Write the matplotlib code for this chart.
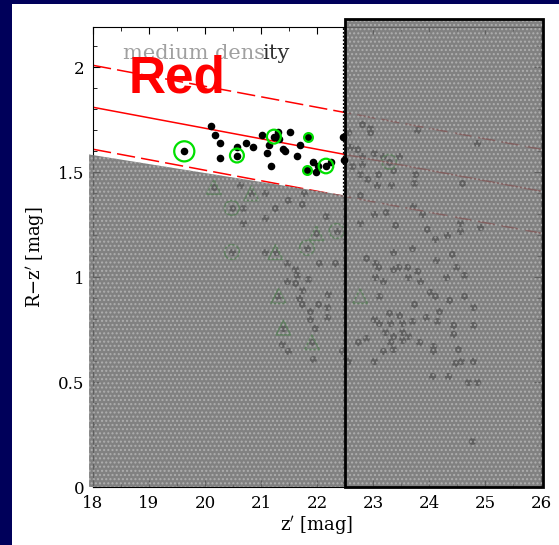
import numpy as np
import matplotlib
matplotlib.use("Agg")
import matplotlib.pyplot as plt
from matplotlib.patches import Polygon, Rectangle

plt.rcParams['font.family'] = ['DejaVu Serif']
plt.rcParams['hatch.linewidth'] = 1.0

# visible red-sequence galaxies (white window)
red_z = [19.63, 20.10, 20.17, 20.26, 20.27, 20.58, 20.57, 20.73, 20.86, 21.01,
         21.14, 21.11, 21.18, 21.23, 21.30, 21.33, 21.39, 21.42, 21.51, 21.65,
         21.70, 21.84, 21.93, 22.02, 21.98, 21.82, 22.16, 22.25, 22.47, 22.48]
red_rz = [1.60, 1.72, 1.68, 1.64, 1.57, 1.62, 1.58, 1.64, 1.62, 1.68,
          1.63, 1.59, 1.53, 1.67, 1.69, 1.66, 1.61, 1.60, 1.69, 1.58,
          1.63, 1.67, 1.55, 1.53, 1.50, 1.51, 1.53, 1.55, 1.67, 1.56]

# big green rings (spectroscopic members)
ring_z = [19.63, 20.57, 21.23, 22.16]
ring_rz = [1.60, 1.58, 1.67, 1.53]
ring_size = [210, 100, 100, 110]

# small green-edged dots
small_z = [21.84, 21.82]
small_rz = [1.67, 1.51]

# galaxies under the masked (grey) regions
bg_z = [20.16, 20.63, 20.83, 21.08, 21.25, 21.49, 21.76, 21.73, 20.48, 20.67,
        20.68, 21.08, 22.16, 22.35, 21.99, 20.48, 21.07, 21.26, 21.46, 21.82,
        22.04, 22.32, 21.61, 21.64, 21.46, 21.84, 21.61, 21.73, 22.20, 21.31,
        21.67, 21.73, 22.02, 22.17, 21.88, 22.18, 21.88, 21.96, 21.40, 21.91,
        21.37, 21.49, 21.93, 22.44,
        22.76, 23.01, 23.23, 22.77, 23.39, 23.72, 23.87, 23.96, 24.55, 24.55,
        24.91, 24.11, 24.32, 23.35, 23.69, 22.88, 23.04, 23.09, 23.04, 23.36,
        23.45, 23.60, 23.79, 23.63, 23.18, 23.84, 24.13, 24.41, 24.48, 24.30,
        24.63, 24.02, 24.11, 23.11, 24.36, 23.74, 24.63, 24.79, 23.29, 24.17,
        23.95, 23.01, 23.11, 23.30, 23.47, 23.51, 23.69, 24.14, 24.43, 24.43,
        24.79, 23.21, 23.36, 23.51, 23.63, 23.30, 23.51, 22.74, 22.88, 23.36,
        23.17, 23.83, 24.08, 24.08, 24.52, 23.01, 22.56, 24.46, 24.58, 24.79,
        24.05, 24.34, 24.70, 24.85,
        22.80, 22.95, 22.95, 23.79, 24.85, 22.56, 22.59, 22.71, 22.80, 23.01,
        23.18, 23.46, 23.29, 23.36, 22.81, 22.62, 22.76, 23.09, 22.90, 23.75,
        23.73, 23.33, 23.07, 24.59, 24.77]
bg_rz = [1.43, 1.44, 1.40, 1.40, 1.33, 1.37, 1.40, 1.35, 1.33, 1.33,
         1.26, 1.28, 1.29, 1.22, 1.21, 1.12, 1.12, 1.12, 1.07, 1.14,
         1.07, 1.07, 1.04, 1.01, 0.98, 0.99, 0.97, 0.94, 0.92, 0.91,
         0.90, 0.87, 0.87, 0.86, 0.84, 0.81, 0.80, 0.76, 0.76, 0.69,
         0.68, 0.65, 0.61, 0.65,
         1.39, 1.30, 1.31, 1.26, 1.25, 1.34, 1.30, 1.23, 1.26, 1.22,
         1.24, 1.18, 1.20, 1.12, 1.14, 1.09, 1.07, 1.05, 1.00, 1.04,
         1.05, 1.05, 1.03, 1.00, 0.98, 0.98, 1.08, 1.11, 1.05, 1.00,
         1.01, 0.93, 0.91, 0.91, 0.89, 0.87, 0.91, 0.86, 0.83, 0.84,
         0.81, 0.80, 0.78, 0.78, 0.82, 0.78, 0.79, 0.79, 0.77, 0.73,
         0.77, 0.74, 0.72, 0.74, 0.72, 0.69, 0.70, 0.69, 0.71, 0.66,
         0.65, 0.69, 0.67, 0.65, 0.66, 0.60, 0.60, 0.59, 0.60, 0.60,
         0.53, 0.53, 0.50, 0.50,
         1.73, 1.71, 1.69, 1.70, 1.64, 1.69, 1.62, 1.61, 1.58, 1.59,
         1.58, 1.58, 1.55, 1.51, 1.54, 1.53, 1.49, 1.49, 1.47, 1.49,
         1.45, 1.44, 1.44, 1.45, 0.22]

bg_ring_z = [20.48, 20.48, 21.82, 22.35, 23.29]
bg_ring_rz = [1.33, 1.12, 1.14, 1.22, 1.55]
bg_tri_z = [20.16, 20.83, 21.26, 21.99, 21.31, 21.40, 21.91, 22.77]
bg_tri_rz = [1.43, 1.40, 1.12, 1.21, 0.91, 0.76, 0.69, 0.91]

# colour-magnitude relation: R-z' = cmr0 + slope*(z'-18), width +-0.2
cmr0 = 1.81
cmr_slope = -0.05
cmr_width = 0.2

# masked regions
mask_left_z = [17.93, 17.93, 22.5, 22.5]
mask_left_rz = [0.0, 1.585, 1.39, 0.0]
mask_right = (22.5, 0.0, 26.03, 2.23)  # z0, rz0, z1, rz1

navy = '#00005a'
green = '#00e000'

fig = plt.figure(figsize=(5.59, 5.45), dpi=100)
fig.patch.set_facecolor(navy)
fig.patches.append(Rectangle((12 / 559, 0), 1 - 12 / 559, 541 / 545,
                             transform=fig.transFigure, facecolor='white',
                             edgecolor='none', zorder=-5))
ax = fig.add_axes([93 / 559, 58 / 545, 448 / 559, 460.5 / 545])

# hidden galaxies (drawn below the grey masks)
ax.scatter(bg_z, bg_rz, s=26, c='black', zorder=1, linewidths=0)
ax.scatter(bg_ring_z, bg_ring_rz, s=110, facecolors='none', edgecolors=green,
           linewidths=1.2, zorder=1)
ax.scatter(bg_tri_z, bg_tri_rz, s=110, marker='^', facecolors='none',
           edgecolors=green, linewidths=1.2, zorder=1)

xx = np.array([18.0, 26.0])
mid = cmr0 + cmr_slope * (xx - 18)
ax.plot(xx, mid, '-', color='red', lw=1.1, zorder=2)
ax.plot(xx, mid + cmr_width, color='red', lw=1.1, dashes=(12, 4), zorder=2)
ax.plot(xx, mid - cmr_width, color='red', lw=1.1, dashes=(12, 4), zorder=2)
ax.axvline(22.47, color='black', lw=0.9, ls=(0, (1.5, 1.5)), zorder=2)

# grey masks
left = Polygon(np.column_stack([mask_left_z, mask_left_rz]), closed=True,
               facecolor='#6e6e6e', edgecolor='#b4b4b4', hatch='....',
               lw=0, alpha=0.87, zorder=3, clip_on=False)
ax.add_patch(left)
z0, r0, z1, r1 = mask_right
right = Rectangle((z0, r0), z1 - z0, r1 - r0, facecolor='#6e6e6e',
                  edgecolor='#b4b4b4', hatch='....', lw=0, alpha=0.87,
                  zorder=3, clip_on=False)
ax.add_patch(right)
ax.add_patch(Rectangle((z0, r0), z1 - z0, r1 - r0, facecolor='none',
                       edgecolor='black', lw=2, zorder=3.5, clip_on=False))

# visible galaxies
ax.scatter(red_z, red_rz, s=30, c='black', zorder=4, linewidths=0)
ax.scatter(ring_z, ring_rz, s=ring_size, facecolors='none', edgecolors=green,
           linewidths=1.6, zorder=4)
ax.scatter(small_z, small_rz, s=40, c='black', edgecolors=green,
           linewidths=1.6, zorder=4)

t1 = ax.text(18.53, 2.04, 'medium dens', color='#a0a0a0', fontsize=15,
             va='baseline', zorder=5)
ax.annotate('ity', xy=(1, 0), xycoords=t1, xytext=(-1.5, 0),
            textcoords='offset points', color='#303030', fontsize=15,
            va='bottom', zorder=5)
ax.text(18.64, 1.88, 'Red', color='red', fontsize=37, fontweight='bold',
        family='Liberation Sans', va='baseline', zorder=5)

ax.set_xlim(18, 26)
ax.set_ylim(0, 2.195)
ax.set_xticks(range(18, 27))
ax.set_yticks([0, 0.5, 1, 1.5, 2])
ax.set_yticklabels(['0', '0.5', '1', '1.5', '2'])
ax.set_xticks(np.arange(18, 26.01, 0.5), minor=True)
ax.set_yticks(np.arange(0, 2.2, 0.1), minor=True)
ax.tick_params(which='both', direction='in', top=True, right=True,
               labelsize=12, pad=6)
ax.tick_params(which='major', length=5)
ax.tick_params(which='minor', length=3)
ax.set_xlabel("z$'$ [mag]", fontsize=13, labelpad=1)
ax.set_ylabel("R$-$z$'$ [mag]", fontsize=13, labelpad=8)

fig.savefig('out.png', dpi=100, facecolor=fig.get_facecolor())
